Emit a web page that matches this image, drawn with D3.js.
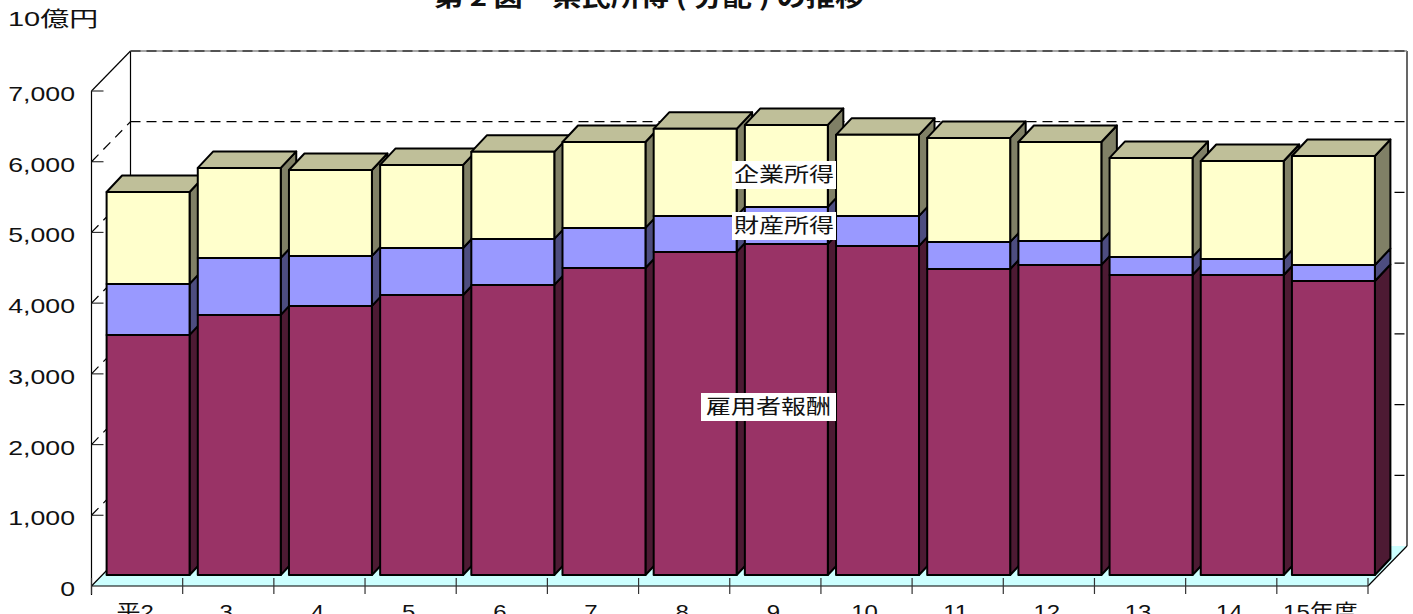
<!DOCTYPE html>
<html>
<head>
<meta charset="utf-8">
<style>
    html, body { margin: 0; padding: 0; background: #fff; overflow: hidden; }
    svg { display: block; }
</style>
</head>
<body>
<script src="https://d3js.org/d3.v7.min.js"></script>
<script>
    const categories = ["平2", "3", "4", "5", "6", "7", "8", "9", "10", "11", "12", "13", "14", "15年度"];
    const employee_pay = [3395, 3678, 3805, 3960, 4102, 4342, 4569, 4682, 4654, 4328, 4385, 4243, 4243, 4158];
    const property_income = [721, 806, 707, 665, 651, 566, 509, 523, 424, 382, 339, 255, 226, 226];
    const business_income = [1301, 1273, 1216, 1174, 1231, 1216, 1231, 1160, 1146, 1471, 1400, 1400, 1386, 1542];
    const y_ticks = [0, 1000, 2000, 3000, 4000, 5000, 6000, 7000];
    const series_names = ["雇用者報酬", "財産所得", "企業所得"];
    const title_text = "第 2 図　県民所得 ( 分配 ) の推移";
    const unit_text = "10億円";

    const svg_w = 1413;
    const svg_h = 614;
    const left_x = 91.5;
    const right_x = 1368;
    const wall_dx = 39;
    const wall_dy = -40;
    const bar_dx = 11;
    const bar_dy = -11;
    const side_dx = 15.5;
    const side_dy = -16.5;

    const svg = d3.select("body").append("svg")
        .attr("width", svg_w)
        .attr("height", svg_h)
        .attr("viewBox", [0, 0, svg_w, svg_h]);

    const x_scale = d3.scaleBand()
        .domain(categories)
        .range([left_x, right_x])
        .paddingInner(0.09)
        .paddingOuter(0.045);

    const y_scale = d3.scaleLinear()
        .domain([0, 7000])
        .range([586, 91]);

    const poly = (g, pts, fill) => g.append("polygon")
        .attr("points", pts.map(p => p.join(",")).join(" "))
        .attr("fill", fill)
        .attr("stroke", "#000")
        .attr("stroke-width", 2)
        .attr("stroke-linejoin", "round");

    const line = (x1, y1, x2, y2, dash, color, width) => svg.append("line")
        .attr("x1", x1).attr("y1", y1).attr("x2", x2).attr("y2", y2)
        .attr("stroke", color || "#000")
        .attr("stroke-width", width || 1.2)
        .attr("stroke-dasharray", dash || null);

    // floor
    svg.append("polygon")
        .attr("points", [
            [left_x, y_scale(0)], [right_x, y_scale(0)],
            [right_x + wall_dx, y_scale(0) + wall_dy], [left_x + wall_dx, y_scale(0) + wall_dy]
        ].map(p => p.join(",")).join(" "))
        .attr("fill", "#ccffff");

    // walls and grid
    line(left_x + wall_dx, y_scale(7000) + wall_dy, left_x + wall_dx, y_scale(0) + wall_dy);
    line(right_x + wall_dx, y_scale(7000) + wall_dy, right_x + wall_dx, y_scale(0) + wall_dy);
    line(left_x, y_scale(7000), left_x, y_scale(0) + 9);
    line(left_x, y_scale(7000), left_x + wall_dx, y_scale(7000) + wall_dy);
    line(left_x, y_scale(0), left_x + wall_dx, y_scale(0) + wall_dy);
    line(right_x, y_scale(0), right_x + wall_dx, y_scale(0) + wall_dy);
    line(left_x + wall_dx, y_scale(7000) + wall_dy, right_x + wall_dx, y_scale(7000) + wall_dy, null, "#888", 1.6);

    y_ticks.forEach(t => {
        const y = y_scale(t);
        if (t > 0) {
            line(left_x, y, left_x + 12, y, null, "#333", 1.2);
            line(left_x + wall_dx, y + wall_dy, right_x + wall_dx, y + wall_dy, "10,6");
        }
        if (t > 0 && t < 7000) {
            line(left_x, y, left_x + wall_dx, y + wall_dy, "10,7");
        }
    });

    // bars, left to right and bottom to top
    const colors = [
        { front: "#993366", side: "#4d1a33", top: "#733050" },
        { front: "#9999ff", side: "#4d4d80", top: "#7373bf" },
        { front: "#ffffcc", side: "#808066", top: "#bfbf99" }
    ];
    const series = [employee_pay, property_income, business_income];
    const bars = svg.append("g");

    categories.forEach((cat, i) => {
        let total = 0;
        const x0 = x_scale(cat) + bar_dx;
        const x1 = x0 + x_scale.bandwidth();
        series.forEach((values, s) => {
            const y0 = y_scale(total) + bar_dy;
            total += values[i];
            const y1 = y_scale(total) + bar_dy;
            poly(bars, [[x1, y0], [x1 + side_dx, y0 + side_dy], [x1 + side_dx, y1 + side_dy], [x1, y1]], colors[s].side);
            if (s === series.length - 1) {
                poly(bars, [[x0, y1], [x0 + side_dx, y1 + side_dy], [x1 + side_dx, y1 + side_dy], [x1, y1]], colors[s].top);
            }
            poly(bars, [[x0, y0], [x1, y0], [x1, y1], [x0, y1]], colors[s].front);
        });
    });

    // x axis
    line(left_x, y_scale(0), right_x, y_scale(0));
    const step = x_scale.step();
    d3.range(categories.length + 1).forEach(i => {
        line(left_x + step * i, y_scale(0) - 8, left_x + step * i, y_scale(0) + 8, null, "#333", 1.2);
    });

    // stretched text, the original labels are drawn wider than tall
    const stretched = (x, y, txt, size, anchor, sx, family, weight) => svg.append("text")
        .attr("transform", `translate(${x},${y}) scale(${sx},1)`)
        .attr("text-anchor", anchor)
        .attr("font-family", family || "'Liberation Sans', 'Noto Sans CJK JP', sans-serif")
        .attr("font-size", size)
        .attr("font-weight", weight || "normal")
        .attr("fill", "#111")
        .text(txt);

    y_ticks.forEach(t => {
        stretched(75, y_scale(t) + 10, d3.format(",")(t), 21, "end", 1.27);
    });

    // the reference crops these at the bottom edge of the picture too
    categories.forEach(cat => {
        stretched(x_scale(cat) + x_scale.bandwidth() / 2 - 2, 619, cat, 20, "middle", 1.2);
    });

    stretched(8, 26, unit_text, 21, "start", 1.38);
    stretched(649, 6, title_text, 24, "middle", 1.22, "'Noto Sans CJK JP', sans-serif", "bold");

    // series labels on white boxes
    const label_boxes = [
        { name: series_names[0], x0: 701, x1: 836, y: 407 },
        { name: series_names[1], x0: 732, x1: 836, y: 226 },
        { name: series_names[2], x0: 732, x1: 836, y: 175 }
    ];
    label_boxes.forEach(d => {
        svg.append("rect")
            .attr("x", d.x0).attr("y", d.y - 14)
            .attr("width", d.x1 - d.x0).attr("height", 28)
            .attr("fill", "#fff");
        stretched((d.x0 + d.x1) / 2, d.y + 7, d.name, 20, "middle", 1.25, "'Noto Sans CJK JP', sans-serif");
    });
</script>
</body>
</html>
